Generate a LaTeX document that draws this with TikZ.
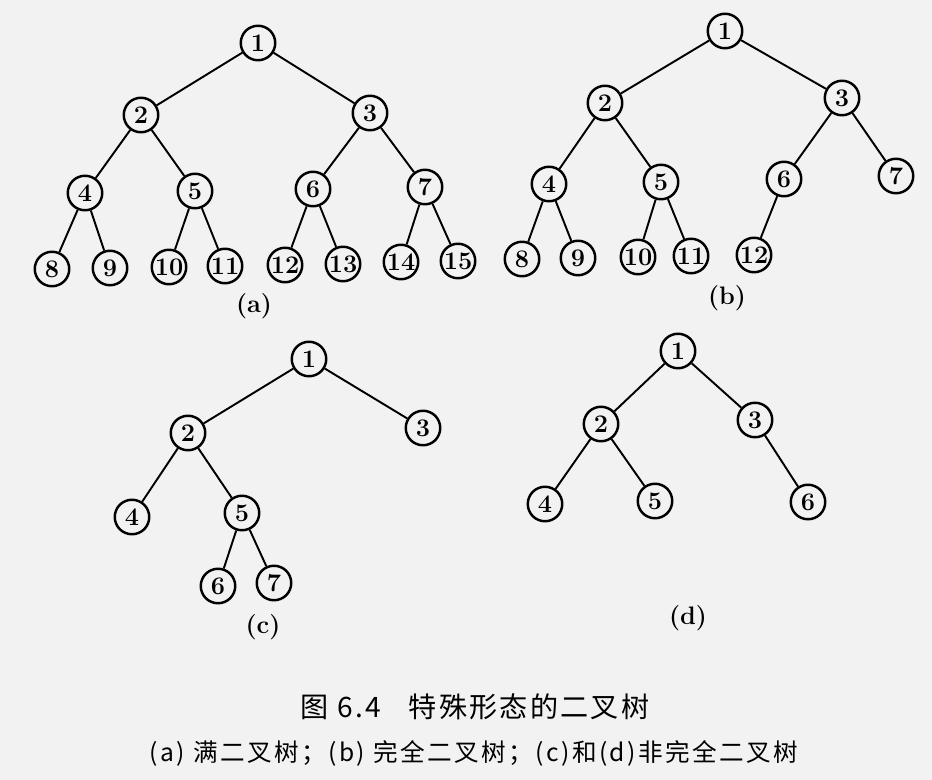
\documentclass[tikz,border=0pt]{standalone}
\usepackage{fontspec}
\newfontfamily\cjktitle[LetterSpace=8]{Noto Sans CJK SC}
\newfontfamily\cjkwide[LetterSpace=10]{Noto Sans CJK SC}
\definecolor{paper}{RGB}{242,242,242}
\begin{document}
\begin{tikzpicture}[x=0.02cm, y=-0.02cm, line width=1.1pt, main node/.style={circle,draw,line width=1.4pt,minimum size=0.69cm,inner sep=0pt,font=\bfseries\Large}]
\fill[paper] (0,0) rectangle (932,780);
\useasboundingbox (0,0) rectangle (932,780);
\begin{scope}[every node/.style={font=\bfseries\Large}]
% (a)
\node[main node] (a1) at (258,43) {1};
\node[main node] (a2) at (141,115) {2};
\node[main node] (a3) at (370,113) {3};
\node[main node] (a4) at (85,193) {4};
\node[main node] (a5) at (195,191) {5};
\node[main node] (a6) at (313,189) {6};
\node[main node] (a7) at (425,187) {7};
\node[main node] (a8) at (52,269) {8};
\node[main node] (a9) at (110,268) {9};
\node[main node] (a10) at (169,267) {10};
\node[main node] (a11) at (225,266) {11};
\node[main node] (a12) at (285,265) {12};
\node[main node] (a13) at (343,264) {13};
\node[main node] (a14) at (401,262) {14};
\node[main node] (a15) at (458,261) {15};
% (b)
\node[main node] (b1) at (725,31) {1};
\node[main node] (b2) at (605,103) {2};
\node[main node] (b3) at (842,98) {3};
\node[main node] (b4) at (549,184) {4};
\node[main node] (b5) at (661,182) {5};
\node[main node] (b6) at (784,179) {6};
\node[main node] (b7) at (896,176) {7};
\node[main node] (b8) at (522,259) {8};
\node[main node] (b9) at (578,258) {9};
\node[main node] (b10) at (638,257) {10};
\node[main node] (b11) at (691,256) {11};
\node[main node] (b12) at (754,255) {12};
% (c)
\node[main node] (c1) at (309,359) {1};
\node[main node] (c2) at (188,433) {2};
\node[main node] (c3) at (423,428) {3};
\node[main node] (c4) at (132,517) {4};
\node[main node] (c5) at (242,513) {5};
\node[main node] (c6) at (218,586) {6};
\node[main node] (c7) at (274,583) {7};
% (d)
\node[main node] (d1) at (678,351) {1};
\node[main node] (d2) at (601,424) {2};
\node[main node] (d3) at (755,420) {3};
\node[main node] (d4) at (545,504) {4};
\node[main node] (d5) at (655,501) {5};
\node[main node] (d6) at (808,502) {6};
% labels
\node (la) at (254,306) {(a)};
\node (lb) at (727,298) {(b)};
\node (lc) at (263,627) {(c)};
\node (ld) at (688,618) {(d)};
\end{scope}
\begin{scope}
\draw (a1) edge (a2) edge (a3);
\draw (a2) edge (a4) edge (a5);
\draw (a3) edge (a6) edge (a7);
\draw (a4) edge (a8) edge (a9);
\draw (a5) edge (a10) edge (a11);
\draw (a6) edge (a12) edge (a13);
\draw (a7) edge (a14) edge (a15);
\draw (b1) edge (b2) edge (b3);
\draw (b2) edge (b4) edge (b5);
\draw (b3) edge (b6) edge (b7);
\draw (b4) edge (b8) edge (b9);
\draw (b5) edge (b10) edge (b11);
\draw (b6) edge (b12);
\draw (c1) edge (c2) edge (c3);
\draw (c2) edge (c4) edge (c5);
\draw (c5) edge (c6) edge (c7);
\draw (d1) edge (d2) edge (d3);
\draw (d2) edge (d4) edge (d5);
\draw (d3) edge (d6);
\end{scope}
% caption
\node[font=\cjktitle\fontsize{16}{19}\selectfont] (title) at (475,707) {图 6.4\quad 特殊形态的二叉树};
\node[font=\cjkwide\fontsize{14}{17}\selectfont] (sub) at (474,753) {(a) 满二叉树；(b) 完全二叉树；(c)和(d)非完全二叉树};
\end{tikzpicture}
\end{document}
